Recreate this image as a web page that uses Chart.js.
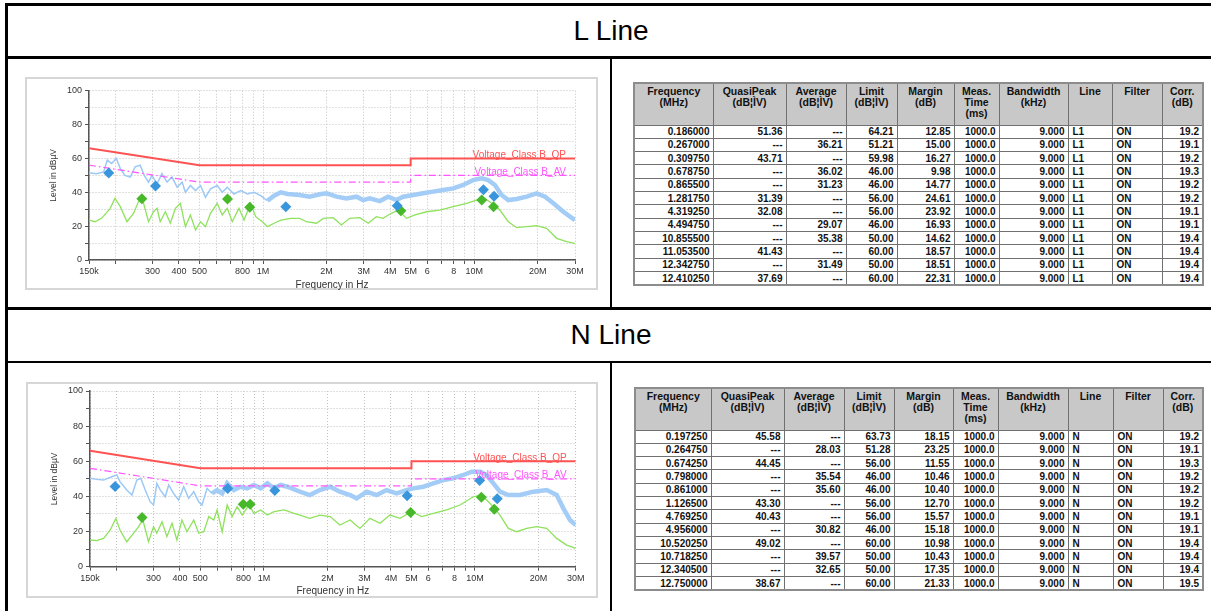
<!DOCTYPE html>
<html><head><meta charset="utf-8">
<script src="https://cdn.jsdelivr.net/npm/chart.js@4.4.1/dist/chart.umd.min.js"></script>
<style>
html,body{margin:0;padding:0;background:#fff;width:1211px;height:611px;overflow:hidden;font-family:"Liberation Sans",Arial,sans-serif;}
.ln{position:absolute;background:#000;}
.rowtitle{position:absolute;left:8px;width:1206px;text-align:center;font-size:28px;line-height:32px;color:#000;}
.box{position:absolute;border:2px solid #d6d6d6;box-sizing:border-box;}
canvas{position:absolute;}
table.dt{position:absolute;border-collapse:collapse;table-layout:fixed;font-size:10px;font-weight:bold;color:#111;border:2px solid #8c8c8c;}
table.dt td{border:1px solid #707070;padding:0 3px;line-height:11px;white-space:nowrap;overflow:hidden;box-sizing:border-box;}
table.dt tr.h td{background:#c8c8c8;text-align:center;vertical-align:top;padding-top:2px;height:42px;font-size:10.5px;}
table.dt tr.d td{background:#fff;height:13.33px;vertical-align:middle;}
table.dt td.r{text-align:right;}
table.dt td.l{text-align:left;padding-left:4px;}
</style>
</head><body>
<div class="ln" style="left:5px;top:3px;width:1206px;height:3px"></div>
<div class="ln" style="left:5px;top:3px;width:3px;height:608px"></div>
<div class="ln" style="left:5px;top:56px;width:1206px;height:3px"></div>
<div class="ln" style="left:5px;top:307px;width:1206px;height:3px"></div>
<div class="ln" style="left:5px;top:361px;width:1206px;height:2px"></div>
<div class="ln" style="left:610px;top:58px;width:2px;height:250px"></div>
<div class="ln" style="left:610px;top:362px;width:2px;height:250px"></div>
<div class="rowtitle" style="top:15px">L Line</div>
<div class="rowtitle" style="top:319px">N Line</div>

<div class="box" style="left:25px;top:77px;width:573px;height:213px"></div>
<canvas id="cL" width="573" height="213" style="left:25px;top:77px;width:573px;height:213px"></canvas>
<div class="box" style="left:26px;top:382px;width:572px;height:216px"></div>
<canvas id="cN" width="572" height="216" style="left:26px;top:382px;width:572px;height:216px"></canvas>

<table class="dt" id="tL" style="left:633px;top:82px;width:569px"></table>
<table class="dt" id="tN" style="left:634px;top:387px;width:568px"></table>

<script>
// ---------- axis ticks ----------
const xTickValues = [0.15,0.2,0.3,0.4,0.5,0.6,0.7,0.8,0.9,1,2,3,4,5,6,7,8,9,10,20,30];
const xTickLabels = ['150k','','300','400','500','','','800','','1M','2M','3M','4M','5M','6','','8','','10M','20M','30M'];
const xTitle = 'Frequency in Hz';
const yTitle = 'Level in dBµV';
const limitLabels = ['Voltage_Class B_QP', 'Voltage_Class B_AV'];

// ---------- limit lines (MHz, dBµV) ----------
const qpLimitFreq = [0.15, 0.5, 5, 5, 30];
const qpLimitLevel = [66, 56, 56, 60, 60];
const avLimitFreq = [0.15, 0.5, 5, 5, 30];
const avLimitLevel = [56, 46, 46, 50, 50];

// ---------- L line traces ----------
const lPeakFreq = [0.150,0.163,0.176,0.183,0.192,0.202,0.211,0.222,0.235,0.248,0.262,0.274,0.287,0.298,0.315,0.332,0.351,0.371,0.392,0.414,0.429,0.453,0.479,0.506,0.534,0.564,0.607,0.641,0.677,0.728,0.784,0.843,0.907,0.975,1.049,1.129,1.214,1.306,
  1.49,1.66,1.86,2.00,2.23,2.48,2.77,2.98,3.20,3.57,3.91,4.28,4.61,5.14,5.73,6.39,7.13,7.95,8.87,9.89,10.84,11.65,12.53,13.48,14.49,15.88,17.71,19.75,21.63,23.69,26.42,28.41,30];
const lPeakLevel = [51.6,51,52,59,57,60,54,50,49,55,56,50,46,50,45,51,46,49,43,46,40,44,41,44,37,42,44,40,43,39,41,39,40,38,35,38,40,39,
  38.4,37.4,38.8,39.4,37.4,36.4,37.4,35.4,36.4,34.8,37.4,35.4,37.4,38.4,39.4,40.4,41.3,42.3,44.3,47.2,48.2,47.2,44.3,38.4,35.4,36,37.4,39.4,37.4,33.5,28.5,25.6,23.6];
const lAvgFreq = [0.150,0.160,0.172,0.189,0.199,0.211,0.227,0.244,0.257,0.265,0.272,0.287,0.303,0.315,0.326,0.345,0.364,0.385,0.406,0.429,0.453,0.479,0.506,0.534,0.564,0.607,0.641,0.677,0.715,0.769,0.813,0.874,0.923,0.993,1.049,1.129,1.214,1.354,
  1.49,1.605,1.79,1.93,2.15,2.35,2.57,2.87,3.15,3.44,3.70,3.98,4.36,4.78,5.24,5.95,6.87,7.95,9.20,10.26,11.24,12.09,13.23,14.49,15.88,17.71,19.75,22.02,24.56,27.39,30];
const lAvgLevel = [23.6,22.6,24.6,30.5,36.4,31.5,22.6,27.6,34.4,36,33.5,22.6,28.5,30.5,22.6,28.5,21.7,30.5,33.5,19.7,26.6,17.7,22.6,19.7,27.6,33.5,26.6,30.5,22.6,30.5,23.6,33.5,25.6,22.6,19.7,21.7,23.6,24.6,
  24.6,22.6,21.7,24.6,25,20.7,24.6,25,21.7,25.6,24.6,27,29.5,24.6,26.6,28.5,29.5,31.5,33.5,35.4,36.4,33.5,29.5,22.6,19.1,19.7,20.3,18.7,12.8,10.8,9.8];

// ---------- N line traces ----------
const nPeakFreq = [0.150,0.161,0.174,0.190,0.201,0.208,0.224,0.237,0.250,0.261,0.274,0.289,0.300,0.311,0.323,0.341,0.354,0.373,0.394,0.417,0.440,0.465,0.491,0.509,0.538,0.568,0.600,0.634,0.670,0.720,0.775,0.834,0.897,0.965,1.038,1.116,1.201,1.292,
  1.48,1.65,1.84,2.06,2.29,2.56,2.75,3.07,3.42,3.81,4.25,4.74,5.10,5.69,6.35,7.08,7.89,8.81,9.64,10.56,11.36,12.22,13.13,14.39,16.34,18.90,21.87,24.38,26.22,28.20,30];
const nPeakLevel = [50.3,49.7,49.3,51.2,52.2,48.4,43.6,40.8,49.3,50.3,43.6,37,35.1,47.4,43.6,39.8,46.5,41.7,38,45.5,38.9,42.7,37,35.1,44.6,41.7,43.6,41.7,47.4,43.6,45.5,44.6,46.5,44.6,47.4,44.6,46.5,45.5,
  42.7,40.8,43.6,45.5,42.7,40.8,38.9,42.7,40.8,43.6,41.7,43.6,44.6,45.5,47.4,49.3,50.3,52.2,54.1,54.1,52.2,47.4,42.7,40.8,40.8,42.7,43.6,40.8,33.2,26.6,23.7];
const nAvgFreq = [0.150,0.161,0.174,0.187,0.199,0.208,0.224,0.241,0.255,0.267,0.284,0.300,0.311,0.329,0.347,0.367,0.387,0.409,0.432,0.465,0.491,0.519,0.548,0.579,0.600,0.634,0.670,0.707,0.747,0.789,0.849,0.897,0.965,1.038,1.116,1.245,1.389,
  1.48,1.65,1.84,2.06,2.29,2.56,2.85,3.18,3.55,3.95,4.41,5.01,5.59,6.35,7.34,8.49,9.82,10.76,11.78,13.13,14.39,15.76,17.57,19.60,21.87,24.38,27.20,30];
const nAvgLevel = [15.2,14.8,16.1,20.9,27.5,20.9,14.2,19,22.8,26.6,14.2,22.8,19,25.6,17.1,24.7,15.2,26.6,19.9,26.6,19,19.9,28.5,26.6,32.3,19.9,35.1,28.5,34.2,29.4,35.1,30.4,32.3,29.4,31.3,32.3,30.4,
  29.4,27.5,29.4,28.5,23.7,26.6,21.8,27.5,24.7,29.4,27.5,31.3,28.5,30.4,32.3,35.1,39.8,40.8,36,29.4,21.8,19.9,21.8,22.8,21.8,16.1,12.3,10.4];

// ---------- final measurement tables ----------
const tableHeaders = ['Frequency<br>(MHz)','QuasiPeak<br>(dB¦ÌV)','Average<br>(dB¦ÌV)','Limit<br>(dB¦ÌV)','Margin<br>(dB)','Meas.<br>Time<br>(ms)','Bandwidth<br>(kHz)','Line','Filter','Corr.<br>(dB)'];
const lFreq = ['0.186000','0.267000','0.309750','0.678750','0.865500','1.281750','4.319250','4.494750','10.855500','11.053500','12.342750','12.410250'];
const lQP = ['51.36','---','43.71','---','---','31.39','32.08','---','---','41.43','---','37.69'];
const lAV = ['---','36.21','---','36.02','31.23','---','---','29.07','35.38','---','31.49','---'];
const lLimit = ['64.21','51.21','59.98','46.00','46.00','56.00','56.00','46.00','50.00','60.00','50.00','60.00'];
const lMargin = ['12.85','15.00','16.27','9.98','14.77','24.61','23.92','16.93','14.62','18.57','18.51','22.31'];
const lCorr = ['19.2','19.1','19.2','19.3','19.2','19.2','19.1','19.1','19.4','19.4','19.4','19.4'];
const nFreq = ['0.197250','0.264750','0.674250','0.798000','0.861000','1.126500','4.769250','4.956000','10.520250','10.718250','12.340500','12.750000'];
const nQP = ['45.58','---','44.45','---','---','43.30','40.43','---','49.02','---','---','38.67'];
const nAV = ['---','28.03','---','35.54','35.60','---','---','30.82','---','39.57','32.65','---'];
const nLimit = ['63.73','51.28','56.00','46.00','46.00','56.00','56.00','46.00','60.00','50.00','50.00','60.00'];
const nMargin = ['18.15','23.25','11.55','10.46','10.40','12.70','15.57','15.18','10.98','10.43','17.35','21.33'];
const nCorr = ['19.2','19.1','19.3','19.2','19.2','19.2','19.1','19.1','19.4','19.4','19.4','19.5'];
const measTime = '1000.0';
const bandwidth = '9.000';
const filterState = 'ON';

// ---------- styles ----------
const FONT = '"Liberation Sans", Arial, sans-serif';
const QP_COLOR = '#ff5252';
const AV_COLOR = '#ff55ff';
const PEAK_COLOR = '#9cc9f6';
const PEAK_BAND_COLOR = '#a3cdf7';
const AVG_COLOR = '#8ee25c';
const QP_MARK = '#3a96dc';
const AV_MARK = '#46b82a';

function zip(xs, ys){ return xs.map((x,i)=>({x:x, y:ys[i]})); }
function marks(freqs, vals){
  const out=[];
  freqs.forEach((f,i)=>{ if(vals[i] !== '---') out.push({x:parseFloat(f), y:parseFloat(vals[i])}); });
  return out;
}

const limitLabelPlugin = {
  id:'limitLabels',
  afterDatasetsDraw(chart){
    const ctx = chart.ctx, x = chart.scales.x, y = chart.scales.y;
    ctx.save();
    ctx.font = '10px ' + FONT;
    ctx.textAlign = 'right';
    ctx.textBaseline = 'alphabetic';
    ctx.fillStyle = QP_COLOR;
    ctx.fillText(limitLabels[0], x.right - 9, y.getPixelForValue(qpLimitLevel[qpLimitLevel.length-1]) - 0.5);
    ctx.fillStyle = AV_COLOR;
    ctx.fillText(limitLabels[1], x.right - 9, y.getPixelForValue(avLimitLevel[avLimitLevel.length-1]) - 0.5);
    ctx.restore();
  }
};

function buildChart(id, d, g){
  const gridCommon = {color:'#c2c2c2', lineWidth:1, tickLength:4, tickColor:'#555', tickWidth:1};
  const borderCommon = {color:'#555', width:1.5, dash:[1,2]};
  return new Chart(document.getElementById(id), {
    type:'line',
    data:{datasets:[
      {data:marks(d.tFreq,d.tQP), showLine:false, pointStyle:'rectRot', pointRadius:5.5, pointBackgroundColor:QP_MARK, pointBorderWidth:0, order:0},
      {data:marks(d.tFreq,d.tAV), showLine:false, pointStyle:'rectRot', pointRadius:5.5, pointBackgroundColor:AV_MARK, pointBorderWidth:0, order:1},
      {data:zip(qpLimitFreq,qpLimitLevel), borderColor:QP_COLOR, borderWidth:2, pointRadius:0, order:2},
      {data:zip(avLimitFreq,avLimitLevel), borderColor:AV_COLOR, borderWidth:1.2, borderDash:[7,3,1.5,3], pointRadius:0, order:3},
      {data:zip(d.avgFreq,d.avgLevel), borderColor:AVG_COLOR, borderWidth:1.3, pointRadius:0, order:4},
      {data:zip(d.pkFreq,d.pkLevel), borderColor:PEAK_COLOR, borderWidth:1.5, pointRadius:0, order:5,
        segment:{borderWidth: c => (c.p0.parsed.x >= d.band ? 4.5 : 1.5),
                 borderColor: c => (c.p0.parsed.x >= d.band ? PEAK_BAND_COLOR : PEAK_COLOR)}}
    ]},
    options:{
      responsive:false, animation:false, events:[],
      layout:{padding:{left:0, top:g.padTop, right:g.padRight, bottom:0}},
      plugins:{legend:{display:false}, tooltip:{enabled:false}},
      scales:{
        x:{type:'logarithmic', min:0.15, max:30,
          afterFit: s => { s.height = g.xH; },
          afterBuildTicks: s => { s.ticks = xTickValues.map(v => ({value:v})); },
          ticks:{autoSkip:false, maxRotation:0, minRotation:0, padding:2, color:'#333', font:{size:9, family:FONT},
            callback: v => { const i = xTickValues.indexOf(v); return i < 0 ? '' : xTickLabels[i]; }},
          grid:gridCommon, border:borderCommon,
          title:{display:true, text:xTitle, color:'#333', font:{size:10, family:FONT, lineHeight:1}, padding:{top:0, bottom:g.xTitlePad}}
        },
        y:{min:0, max:100,
          afterFit: s => { s.width = 64; },
          ticks:{stepSize:10, padding:3, color:'#333', font:{size:9, family:FONT},
            callback: v => (v % 20 === 0 ? v : '')},
          grid:gridCommon, border:borderCommon,
          title:{display:true, text:yTitle, color:'#333', font:{size:8.5, family:FONT, lineHeight:1}, padding:{top:24, bottom:0}}
        }
      }
    },
    plugins:[limitLabelPlugin]
  });
}

buildChart('cL', {pkFreq:lPeakFreq, pkLevel:lPeakLevel, avgFreq:lAvgFreq, avgLevel:lAvgLevel, tFreq:lFreq, tQP:lQP, tAV:lAV, band:1.0},
  {padTop:13.7, padRight:23, xH:30, xTitlePad:0});
buildChart('cN', {pkFreq:nPeakFreq, pkLevel:nPeakLevel, avgFreq:nAvgFreq, avgLevel:nAvgLevel, tFreq:nFreq, tQP:nQP, tAV:nAV, band:0.55},
  {padTop:9, padRight:22.3, xH:31.3, xTitlePad:1.3});

function buildTable(id, colW, freq, qp, av, limit, margin, lineName, corr){
  const t = document.getElementById(id);
  let h = '<colgroup>' + colW.map(w => '<col style="width:'+w+'px">').join('') + '</colgroup>';
  h += '<tr class="h">' + tableHeaders.map(x => '<td>'+x+'</td>').join('') + '</tr>';
  freq.forEach((f,i) => {
    const cells = [[f,'r'],[qp[i],'r'],[av[i],'r'],[limit[i],'r'],[margin[i],'r'],[measTime,'r'],[bandwidth,'r'],[lineName,'l'],[filterState,'l'],[corr[i],'r']];
    h += '<tr class="d">' + cells.map(c => '<td class="'+c[1]+'">'+c[0]+'</td>').join('') + '</tr>';
  });
  t.innerHTML = h;
}
buildTable('tL', [79,73,60,51,57,45,69,44,50,41], lFreq, lQP, lAV, lLimit, lMargin, 'L1', lCorr);
buildTable('tN', [76,73,60,50,59,45,70,45,50,40], nFreq, nQP, nAV, nLimit, nMargin, 'N', nCorr);
</script>
</body></html>
